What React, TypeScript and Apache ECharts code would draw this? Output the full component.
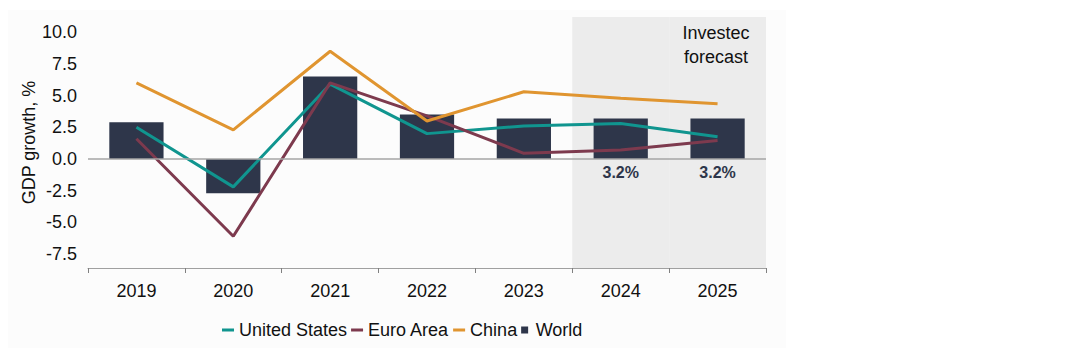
import React, { useEffect, useRef } from "react";
import * as echarts from "echarts";

const years = ["2019", "2020", "2021", "2022", "2023", "2024", "2025"];
const world = [2.9, -2.7, 6.5, 3.5, 3.2, 3.2, 3.2];
const unitedStates = [2.5, -2.2, 5.9, 2.0, 2.6, 2.8, 1.75];
const euroArea = [1.6, -6.1, 6.0, 3.4, 0.45, 0.7, 1.45];
const china = [6.0, 2.3, 8.5, 3.0, 5.3, 4.8, 4.35];
const forecastYears = ["2024", "2025"];
const yTicks = [-7.5, -5, -2.5, 0, 2.5, 5, 7.5, 10];

const FONT = "'Liberation Sans', Arial, sans-serif";
const NAVY = "#2e364a";
const TEAL = "#10958f";
const MAROON = "#7d3a4e";
const ORANGE = "#e09530";

export default function App() {
  const ref = useRef<HTMLDivElement>(null);
  useEffect(() => {
    if (!ref.current) return;
    const chart = echarts.init(ref.current, null, { renderer: "svg" });
    const lineIcon = "path://M0,0 L12,0 L12,3 L0,3 Z";
    chart.setOption({
      animation: false,
      textStyle: { fontFamily: FONT },
      grid: { left: 88, right: 322, top: 17, bottom: 92 },
      graphic: [
        {
          type: "rect",
          z: -10,
          silent: true,
          shape: { x: 8, y: 10, width: 778, height: 338 },
          style: { fill: "#fcfcfc" },
        },
        {
          type: "text",
          z: 100,
          x: 716,
          y: 21,
          style: {
            text: "Investec\nforecast",
            fontFamily: FONT,
            fontSize: 18,
            lineHeight: 24,
            fill: "#111",
            align: "center",
          },
        },
      ],
      legend: {
        left: 217,
        top: 316,
        itemWidth: 12,
        itemHeight: 7,
        itemGap: 4,
        textStyle: { fontSize: 18, color: "#111", fontFamily: FONT },
        data: [
          { name: "United States", icon: lineIcon },
          { name: "Euro Area", icon: lineIcon },
          { name: "China", icon: lineIcon },
          { name: "World", icon: "path://M0,0 L1,0 L1,1 L0,1 Z" },
        ],
      },
      xAxis: {
        type: "category",
        data: years,
        axisLine: { show: true, onZero: false, lineStyle: { color: "#a0a0a0", width: 1 } },
        axisTick: { show: true, length: 5, lineStyle: { color: "#808080" } },
        axisLabel: { fontSize: 18, color: "#111", margin: 14, fontFamily: FONT },
        splitLine: { show: false },
      },
      yAxis: {
        type: "value",
        min: -8.6,
        max: 11.2,
        name: "GDP growth, %",
        nameLocation: "middle",
        nameGap: 50,
        nameMoveOverlap: false,
        nameTextStyle: { fontSize: 18, color: "#111", fontFamily: FONT },
        axisLine: { show: false },
        axisTick: { show: false },
        splitLine: { show: false },
        axisLabel: {
          customValues: yTicks,
          fontSize: 18,
          color: "#111",
          margin: 11,
          fontFamily: FONT,
          formatter: (v: number) => v.toFixed(1),
        },
      },
      series: [
        {
          type: "custom",
          name: "forecastShade",
          z: 0,
          silent: true,
          data: forecastYears.map((y) => [y]),
          encode: { x: 0 },
          renderItem: (params: any, api: any) => {
            const pt = api.coord([api.value(0), 0]);
            const bw = api.size([1, 0])[0];
            const cs = params.coordSys;
            return {
              type: "rect",
              shape: { x: pt[0] - bw / 2, y: cs.y, width: bw, height: cs.height },
              style: { fill: "#ececec" },
            };
          },
        },
        {
          name: "World",
          type: "bar",
          z: 2,
          barWidth: "56%",
          itemStyle: { color: NAVY },
          data: world.map((v, i) =>
            forecastYears.includes(years[i])
              ? {
                  value: v,
                  label: {
                    show: true,
                    position: "bottom",
                    distance: 6,
                    formatter: (p: any) => p.value.toFixed(1) + "%",
                    fontSize: 16,
                    fontWeight: "bold",
                    color: NAVY,
                    fontFamily: FONT,
                  },
                }
              : v
          ),
          markLine: {
            silent: true,
            symbol: "none",
            label: { show: false },
            lineStyle: { color: "#a6a6a6", width: 1.5, type: "solid" },
            data: [{ yAxis: 0 }],
          },
        },
        {
          name: "United States",
          type: "line",
          z: 3,
          symbol: "none",
          lineStyle: { color: TEAL, width: 3 },
          itemStyle: { color: TEAL },
          data: unitedStates,
        },
        {
          name: "Euro Area",
          type: "line",
          z: 3,
          symbol: "none",
          lineStyle: { color: MAROON, width: 3 },
          itemStyle: { color: MAROON },
          data: euroArea,
        },
        {
          name: "China",
          type: "line",
          z: 3,
          symbol: "none",
          lineStyle: { color: ORANGE, width: 3 },
          itemStyle: { color: ORANGE },
          data: china,
        },
      ],
    });
    return () => chart.dispose();
  }, []);
  return (
    <div
      ref={ref}
      style={{ position: "absolute", left: 0, top: 0, width: 1088, height: 360 }}
    />
  );
}
